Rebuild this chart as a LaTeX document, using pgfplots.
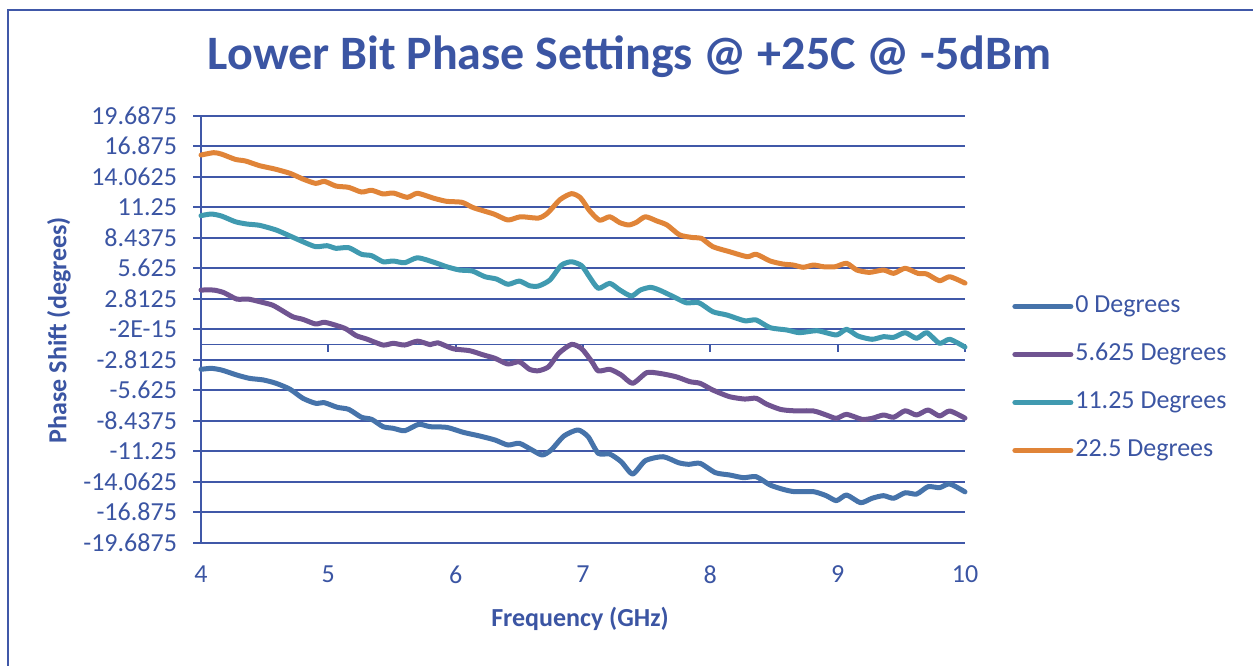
\documentclass[border=0pt]{standalone}
\usepackage{pgfplots}
\pgfplotsset{compat=1.18}
\usepackage{fontspec}
\setmainfont{Carlito}
\definecolor{textblue}{RGB}{59,85,163}
\definecolor{gridblue}{RGB}{64,88,168}
\definecolor{s0}{RGB}{70,115,170}
\definecolor{s1}{RGB}{112,84,145}
\definecolor{s2}{RGB}{64,154,176}
\definecolor{s3}{RGB}{224,132,56}

\begin{document}
\begin{tikzpicture}
\useasboundingbox (0,0) rectangle (626.5pt,-332.5pt);
% chart frame (left and top edges only are in view)
\draw[gridblue, line width=1.2pt] (4pt,-340pt) -- (4pt,-5pt) -- (640pt,-5pt);
\node[anchor=base, text=textblue, font=\fontsize{24}{28}\selectfont\bfseries] at (314.75pt,-34.5pt)
  {Lower Bit Phase Settings @ +25C @ -5dBm};
\begin{axis}[
  at={(100.5pt,-271.35pt)}, anchor=south west,
  scale only axis, width=382pt, height=213.5pt,
  xmin=4, xmax=10, ymin=-19.6875, ymax=19.6875,
  axis lines*=left,
  x axis line style={draw=none},
  y axis line style={gridblue, line width=0.9pt},
  xtick={4,...,10}, xticklabels={4,5,6,7,8,9,10},
  major x tick style={draw=none},
  ytick={-19.6875,-16.875,-14.0625,-11.25,-8.4375,-5.625,-2.8125,0,2.8125,5.625,8.4375,11.25,14.0625,16.875,19.6875},
  yticklabels={-19.6875,-16.875,-14.0625,-11.25,-8.4375,-5.625,-2.8125,-2E-15,2.8125,5.625,8.4375,11.25,14.0625,16.875,19.6875},
  tick align=outside, major tick length=4pt,
  major y tick style={gridblue, line width=0.9pt},
  ymajorgrids, major grid style={gridblue, line width=0.9pt},
  tick label style={font=\fontsize{13}{15}\selectfont, text=textblue},
  yticklabel style={xshift=-4.5pt},
  xticklabel style={yshift=-4pt},
  legend cell align=left,
  legend image code/.code={\draw[#1, line width=2.5pt] (0pt,0pt) -- (28pt,0pt);},
  legend style={at={(axis description cs:1.0615,0.587)}, anchor=north west,
    draw=none, fill=none, inner sep=0pt, row sep=10pt,
    font=\fontsize{13}{15}\selectfont, text=textblue,
    nodes={inner sep=1pt, text height=9pt, text depth=3pt}},
  every axis plot/.append style={line width=2.5pt, smooth, tension=0.4, line cap=round, line join=round},
  clip=false,
]
% horizontal axis crosses at -1.40625
\draw[gridblue, line width=0.9pt] (axis cs:4,-1.40625) -- (axis cs:10,-1.40625);
\pgfplotsinvokeforeach{4,...,10}{
  \draw[gridblue, line width=0.9pt] (axis cs:#1,-1.40625) -- ([yshift=-4pt]axis cs:#1,-1.40625);
}

\addplot[s0] coordinates {
(4.00,-3.70) (4.08,-3.61) (4.16,-3.76) (4.28,-4.22) (4.38,-4.53) (4.49,-4.68)
(4.59,-4.99) (4.70,-5.54) (4.80,-6.37) (4.90,-6.83) (4.97,-6.78) (5.07,-7.20)
(5.16,-7.39) (5.26,-8.12) (5.34,-8.31) (5.43,-8.99) (5.51,-9.14) (5.60,-9.36)
(5.71,-8.77) (5.80,-8.99) (5.93,-9.05) (6.06,-9.51) (6.19,-9.85) (6.31,-10.22)
(6.41,-10.68) (6.50,-10.52) (6.60,-11.14) (6.68,-11.60) (6.75,-11.14) (6.85,-9.85)
(6.96,-9.29) (7.04,-9.91) (7.12,-11.45) (7.21,-11.51) (7.30,-12.22) (7.39,-13.35)
(7.49,-12.12) (7.63,-11.76) (7.75,-12.31) (7.83,-12.46) (7.92,-12.37) (8.04,-13.23)
(8.15,-13.44) (8.26,-13.69) (8.36,-13.60) (8.47,-14.37) (8.57,-14.76) (8.66,-14.98)
(8.81,-14.98) (8.91,-15.35) (8.99,-15.81) (9.07,-15.29) (9.18,-16.00) (9.27,-15.59)
(9.36,-15.35) (9.44,-15.59) (9.53,-15.08) (9.62,-15.20) (9.71,-14.52) (9.80,-14.61)
(9.88,-14.27) (10.00,-15.00)
};
\addlegendentry{0 Degrees}

\addplot[s1] coordinates {
(4.00,3.61) (4.10,3.61) (4.18,3.37) (4.28,2.78) (4.37,2.78) (4.46,2.54)
(4.56,2.23) (4.63,1.77) (4.72,1.15) (4.80,0.91) (4.90,0.48) (4.97,0.64)
(5.07,0.32) (5.14,0.02) (5.22,-0.60) (5.30,-0.90) (5.43,-1.46) (5.51,-1.30)
(5.60,-1.46) (5.70,-1.10) (5.80,-1.42) (5.86,-1.25) (5.98,-1.80) (6.11,-1.98)
(6.22,-2.38) (6.31,-2.69) (6.41,-3.21) (6.50,-3.00) (6.58,-3.70) (6.65,-3.83)
(6.73,-3.46) (6.81,-2.22) (6.91,-1.40) (6.99,-1.80) (7.07,-3.00) (7.12,-3.85)
(7.21,-3.70) (7.30,-4.22) (7.39,-4.99) (7.50,-4.01) (7.60,-4.07) (7.73,-4.38)
(7.84,-4.84) (7.92,-4.99) (8.02,-5.61) (8.15,-6.22) (8.27,-6.44) (8.36,-6.37)
(8.44,-6.90) (8.55,-7.39) (8.65,-7.52) (8.81,-7.54) (8.91,-7.91) (8.99,-8.22)
(9.07,-7.85) (9.19,-8.31) (9.27,-8.22) (9.36,-7.91) (9.44,-8.12) (9.53,-7.52)
(9.62,-7.91) (9.71,-7.45) (9.80,-8.00) (9.88,-7.54) (10.00,-8.20)
};
\addlegendentry{5.625 Degrees}

\addplot[s2] coordinates {
(4.00,10.47) (4.08,10.62) (4.16,10.44) (4.27,9.91) (4.36,9.70) (4.46,9.58)
(4.59,9.15) (4.70,8.59) (4.80,8.07) (4.90,7.61) (4.99,7.70) (5.06,7.46)
(5.16,7.52) (5.26,6.91) (5.34,6.78) (5.43,6.22) (5.51,6.29) (5.60,6.13)
(5.70,6.59) (5.83,6.17) (5.93,5.76) (6.03,5.46) (6.13,5.37) (6.23,4.84)
(6.32,4.63) (6.41,4.14) (6.50,4.44) (6.58,4.01) (6.65,3.98) (6.74,4.54)
(6.83,5.90) (6.91,6.22) (6.99,5.85) (7.05,4.84) (7.12,3.77) (7.21,4.23)
(7.29,3.61) (7.38,3.06) (7.45,3.61) (7.53,3.86) (7.60,3.61) (7.71,3.00)
(7.81,2.44) (7.91,2.44) (8.02,1.61) (8.13,1.31) (8.27,0.78) (8.36,0.85)
(8.47,0.14) (8.60,-0.07) (8.70,-0.32) (8.84,-0.14) (8.99,-0.53) (9.07,-0.01)
(9.16,-0.63) (9.27,-0.93) (9.36,-0.69) (9.44,-0.75) (9.53,-0.32) (9.62,-0.84)
(9.70,-0.32) (9.80,-1.30) (9.88,-0.93) (10.00,-1.65)
};
\addlegendentry{11.25 Degrees}

\addplot[s3] coordinates {
(4.00,16.06) (4.10,16.28) (4.16,16.15) (4.27,15.66) (4.35,15.51) (4.46,15.08)
(4.58,14.77) (4.70,14.37) (4.80,13.85) (4.90,13.45) (4.97,13.63) (5.06,13.20)
(5.16,13.08) (5.26,12.65) (5.34,12.81) (5.43,12.47) (5.51,12.56) (5.62,12.16)
(5.70,12.53) (5.83,12.07) (5.93,11.79) (6.05,11.70) (6.14,11.20) (6.30,10.62)
(6.41,10.07) (6.51,10.37) (6.65,10.25) (6.72,10.69) (6.82,11.95) (6.91,12.50)
(6.98,12.12) (7.05,10.95) (7.13,10.05) (7.21,10.37) (7.29,9.82) (7.36,9.61)
(7.42,9.86) (7.49,10.37) (7.58,9.98) (7.66,9.61) (7.76,8.69) (7.87,8.44)
(7.93,8.38) (8.02,7.61) (8.15,7.15) (8.29,6.69) (8.36,6.91) (8.47,6.29)
(8.57,6.01) (8.65,5.92) (8.73,5.71) (8.81,5.92) (8.89,5.76) (8.98,5.76)
(9.07,6.08) (9.15,5.46) (9.25,5.24) (9.36,5.46) (9.44,5.15) (9.53,5.62)
(9.63,5.15) (9.70,5.09) (9.80,4.47) (9.88,4.84) (10.00,4.25)
};
\addlegendentry{22.5 Degrees}
\end{axis}
\node[anchor=base, text=textblue, font=\fontsize{13}{15}\selectfont\bfseries] at (290pt,-313pt) {Frequency (GHz)};
\node[rotate=90, text=textblue, font=\fontsize{13}{15}\selectfont\bfseries] at (29.5pt,-165pt) {Phase Shift (degrees)};
\end{tikzpicture}
\end{document}
